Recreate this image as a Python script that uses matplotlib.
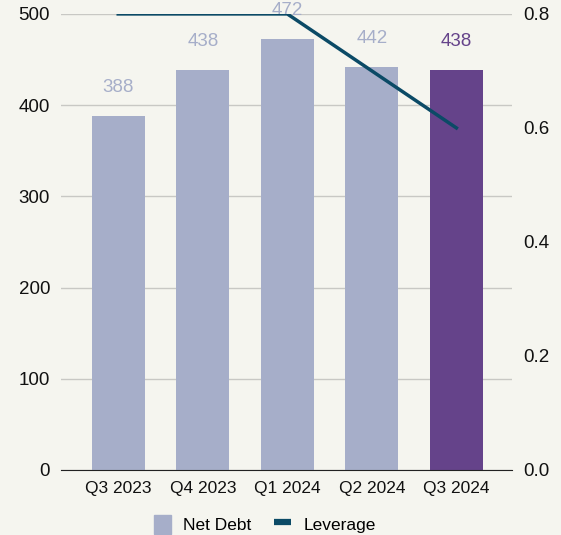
import matplotlib
matplotlib.use('Agg')
import matplotlib.pyplot as plt
from matplotlib.lines import Line2D
from matplotlib.patches import Patch

quarters = ['Q3 2023', 'Q4 2023', 'Q1 2024', 'Q2 2024', 'Q3 2024']
net_debt = [388, 438, 472, 442, 438]
leverage = [0.8, 0.8, 0.8, 0.7, 0.6]

bg = '#f5f5ef'
bar_col = '#a6aec9'
hi_col = '#65438a'
line_col = '#0b4a66'
colors = [bar_col] * 4 + [hi_col]

plt.rcParams['font.family'] = ['Liberation Sans', 'DejaVu Sans']

fig = plt.figure(figsize=[5.61, 5.35], dpi=100, facecolor=bg)
ax = fig.add_axes([0.109, 0.1215, 0.804, 0.8525])
ax.set_facecolor(bg)
x = range(len(quarters))
ax.bar(x, net_debt, width=0.63, color=colors, zorder=2)
for i, v in enumerate(net_debt):
    ax.text(i, v + 22, str(v), ha='center', va='bottom', fontsize=13.5,
            color=colors[i], zorder=3)
ax.set_ylim(0, 500)
ax.set_xlim(-0.675, 4.66)
ax.set_yticks(range(0, 501, 100))
ax.set_xticks(list(x))
ax.set_xticklabels(quarters)
ax.grid(axis='y', color='#c8c8c4', linewidth=1, zorder=0)
for s in ['top', 'left', 'right']:
    ax.spines[s].set_visible(False)
ax.spines['bottom'].set_color('#222222')
ax.tick_params(length=0, colors='#111111')
ax.tick_params(axis='x', pad=8, labelsize=12.5)
ax.tick_params(axis='y', pad=8, labelsize=13.5)

ax2 = ax.twinx()
ax2.plot(list(x), leverage, color=line_col, linewidth=2.5, zorder=4)
ax2.set_ylim(0, 0.8)
ax2.set_yticks([0, 0.2, 0.4, 0.6, 0.8])
ax2.set_yticklabels(['0.0', '0.2', '0.4', '0.6', '0.8'])
for s in ax2.spines.values():
    s.set_visible(False)
ax2.tick_params(length=0, labelsize=13.5, colors='#111111', pad=8)

handles = [Patch(color=bar_col),
           Line2D([0], [0], color=line_col, linewidth=4.5, solid_capstyle='butt')]
fig.legend(handles, ['Net Debt', 'Leverage'], loc='center', bbox_to_anchor=(0.472, 0.02),
           ncol=2, frameon=False, fontsize=12.5, handlelength=1.0, handleheight=1.3,
           columnspacing=1.3, handletextpad=0.7)

fig.savefig('out.png', facecolor=bg)
